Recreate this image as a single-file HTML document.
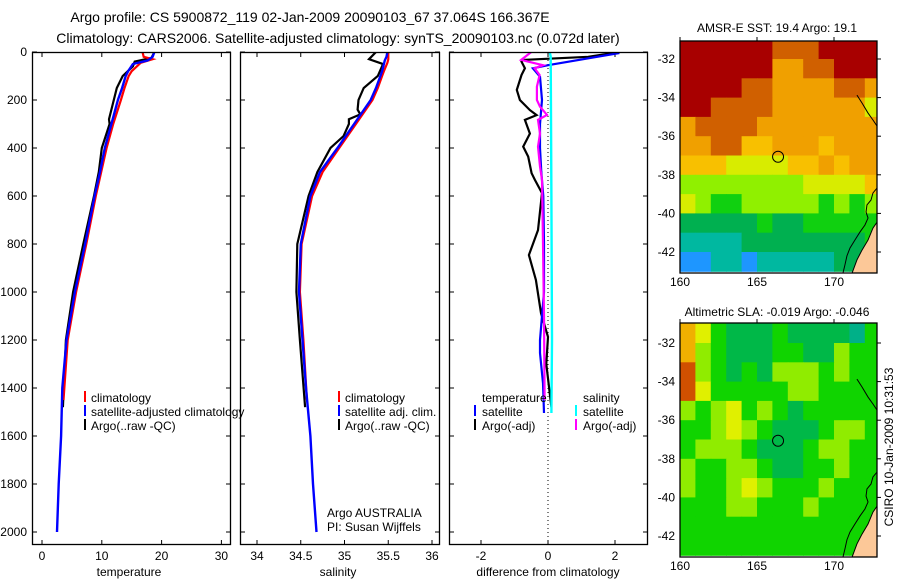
<!DOCTYPE html>
<html><head><meta charset="utf-8"><style>
body{margin:0;background:#fff;}
svg{display:block;font-family:"Liberation Sans",sans-serif;}
</style></head><body>
<svg id="fig" width="900" height="580" viewBox="0 0 900 580" xmlns="http://www.w3.org/2000/svg">
<rect width="900" height="580" fill="#fff"/>
<text x="310" y="22" font-size="14" text-anchor="middle">Argo profile: CS 5900872_119 02-Jan-2009 20090103_67 37.064S 166.367E</text>
<text x="338" y="43" font-size="14" text-anchor="middle">Climatology: CARS2006. Satellite-adjusted climatology: synTS_20090103.nc (0.072d later)</text>
<g id="plots"></g>
<text x="129" y="576" font-size="12" text-anchor="middle">temperature</text>
<text x="338" y="576" font-size="12" text-anchor="middle">salinity</text>
<text x="548" y="576" font-size="12" text-anchor="middle">difference from climatology</text>
<g font-size="12">
<rect x="84" y="391" width="2" height="11" fill="#f00"/>
<text x="91" y="402">climatology</text>
<rect x="84" y="405" width="2" height="11" fill="#00f"/>
<text x="91" y="416">satellite-adjusted climatology</text>
<rect x="84" y="419" width="2" height="11" fill="#000"/>
<text x="91" y="430">Argo(..raw -QC)</text>
</g>
<g font-size="12">
<rect x="338" y="391" width="2" height="11" fill="#f00"/>
<text x="345" y="402">climatology</text>
<rect x="338" y="405" width="2" height="11" fill="#00f"/>
<text x="345" y="416">satellite adj. clim.</text>
<rect x="338" y="419" width="2" height="11" fill="#000"/>
<text x="345" y="430">Argo(..raw -QC)</text>
<text x="327" y="517">Argo AUSTRALIA</text>
<text x="327" y="531">PI: Susan Wijffels</text>
</g>
<g font-size="12">
<text x="482" y="402">temperature</text>
<rect x="474" y="405" width="2" height="11" fill="#00f"/>
<text x="482" y="416">satellite</text>
<rect x="474" y="419" width="2" height="11" fill="#000"/>
<text x="482" y="430">Argo(-adj)</text>
<text x="583" y="402">salinity</text>
<rect x="575" y="405" width="2" height="11" fill="#0ff"/>
<text x="583" y="416">satellite</text>
<rect x="575" y="419" width="2" height="11" fill="#f0f"/>
<text x="583" y="430">Argo(-adj)</text>
</g>
<text x="777" y="32" font-size="12" text-anchor="middle">AMSR-E SST: 19.4 Argo: 19.1</text>
<text x="777" y="316" font-size="12" text-anchor="middle">Altimetric SLA: -0.019 Argo: -0.046</text>
<text x="0" y="0" font-size="12" text-anchor="middle" transform="translate(893,447) rotate(-90)">CSIRO 10-Jan-2009 10:31:53</text>
</svg>
<script>
// ---------- profile data ----------
const tickDepths = [0,200,400,600,800,1000,1200,1400,1600,1800,2000];
const tempTicks = [0,10,20,30];
const salTicks = [34,34.5,35,35.5,36];
const salTickLabels = ["34","34.5","35","35.5","36"];
const diffTicks = [-2,0,2];

const satDepth = [0,20,35,50,80,100,150,200,300,400,500,600,800,1000,1200,1400,1600,1800,2000];
const satTemp = [18.8,18.5,17.7,15.2,14.4,14.0,13.4,12.7,11.6,10.5,9.7,8.8,7.2,5.5,4.1,3.4,3.2,2.8,2.5];
const satSal = [35.49,35.48,35.46,35.45,35.43,35.41,35.36,35.30,35.11,34.92,34.72,34.61,34.50,34.48,34.52,34.56,34.61,34.64,34.68];

const climDepth = [0,20,30,45,80,100,150,200,300,400,500,600,800,1000,1200,1450];
const climTemp = [16.8,17.0,18.5,16.5,15.0,14.5,13.8,13.2,11.9,10.8,9.9,9.0,7.4,5.7,4.3,3.6];
const climSal = [35.5,35.5,35.5,35.49,35.45,35.43,35.38,35.32,35.13,34.94,34.75,34.63,34.51,34.49,34.53,34.57];

const argoDepth = [0,25,40,60,100,150,200,280,300,400,500,600,800,1000,1200,1480];
const argoTemp = [18.8,18.3,15.5,15.2,13.5,12.5,12.0,11.2,11.3,10.0,9.5,8.7,6.9,5.2,4.0,3.5];
const argoSalDepth = [0,30,50,100,150,200,240,260,280,300,350,400,500,600,800,1000,1200,1480];
const argoSal = [35.36,35.28,35.44,35.38,35.22,35.16,35.15,35.18,35.05,35.05,34.99,34.84,34.69,34.59,34.46,34.45,34.49,34.55];

const satTdiffDepth = [0,5,55,68,103,200,300,400,500,600,800,1000,1200,1254,1380,1504];
const satTdiff = [2.1,2.1,0,-0.45,-0.24,-0.18,-0.24,-0.24,-0.2,-0.14,-0.12,-0.12,-0.24,-0.24,-0.15,-0.12];
const argoTdiffDepth = [0,5,20,33,40,68,96,158,200,242,263,283,340,394,436,505,533,588,742,846,950,1088,1187,1300,1480];
const argoTdiff = [1.9,1.9,1.2,-0.74,-0.79,-0.69,-0.79,-0.93,-0.84,-0.54,-0.34,-0.69,-0.54,-0.74,-0.59,-0.49,-0.39,-0.18,-0.3,-0.57,-0.36,-0.21,0,-0.05,0.1];
const satSdiffDepth = [0,20,600,1200,1504];
const satSdiff = [0.05,0.08,0.1,0.12,0.1];
const argoSdiffDepth = [0,33,40,55,68,96,145,200,228,262,283,340,394,477,533,800,1100,1450];
const argoSdiff = [-0.5,-0.8,-0.6,-0.15,-0.4,-0.25,-0.33,-0.33,-0.24,-0.03,-0.3,-0.24,-0.3,-0.24,-0.18,-0.15,-0.12,-0.1];

// ---------- map data ----------
const mapLons = [160,161,162,163,164,165,166,167,168,169,170,171,172];
const mapLats = [-31,-32,-33,-34,-35,-36,-37,-38,-39,-40,-41,-42];
const sstColors = ["#1e96ff","#00b8a0","#00b050","#10d010","#90f000","#d8ec00","#f8c000","#f0a000","#d06000","#a80000"];
const sstGrid = [
[9,9,9,9,9,9,8,8,8,9,9,9,9],
[9,9,9,9,9,9,7,7,8,8,9,9,9],
[9,9,9,9,8,8,7,7,7,7,8,8,7],
[9,9,8,8,8,8,7,7,7,7,7,7,5],
[7,8,8,8,8,7,7,7,7,7,7,7,7],
[7,7,8,8,6,6,7,7,7,6,7,7,7],
[6,6,6,5,5,5,5,6,6,7,6,7,7],
[4,4,4,4,4,4,4,4,5,5,5,5,6],
[5,4,3,3,4,4,4,4,4,3,4,3,4],
[2,2,2,2,2,3,2,2,3,3,3,3,3],
[1,1,1,1,2,2,2,2,2,2,2,2,3],
[0,0,1,1,0,1,1,1,1,1,2,2,2]];
const slaColors = ["#00b088","#00b848","#10d400","#90ec00","#e0f000","#f0b000","#d05000"];
const slaGrid = [
[5,4,2,1,1,1,2,1,1,1,1,0,2],
[5,3,2,1,1,1,2,2,1,1,3,2,2],
[6,3,2,1,2,1,3,3,3,2,3,2,2],
[6,4,2,2,2,2,2,3,3,2,2,2,2],
[3,2,3,4,2,3,2,1,2,2,2,2,2],
[2,2,3,4,3,2,1,1,1,2,3,3,2],
[2,3,3,3,2,1,1,1,2,3,3,2,2],
[3,2,2,3,3,2,1,1,2,2,3,2,2],
[3,2,2,3,4,3,2,2,2,3,2,2,2],
[2,2,2,3,3,2,2,2,3,2,2,2,2],
[2,2,2,2,2,2,2,2,2,2,2,2,2],
[2,2,2,2,2,2,2,2,2,2,2,2,2]];
const mapLonTicks = [160,165,170];
const mapLatTicks = [-32,-34,-36,-38,-40,-42];
const argoLon = 166.367;
const argoLat = -37.064;
const coastNorthLon = [171.49,171.82,172.21,172.53,172.79];
const coastNorthLat = [-33.87,-34.28,-34.80,-35.16,-35.47];
const coastSouthLon = [172.8,172.53,172.4,172.14,172.08,172.21,172.01,171.69,171.36,171.04,170.84,170.71,170.58];
const coastSouthLat = [-38.68,-38.94,-39.31,-39.56,-39.93,-40.24,-40.6,-40.96,-41.38,-41.79,-42.2,-42.67,-43.1];
const landLon = [172.8,172.53,172.21,171.82,171.49,171.17,172.8];
const landLat = [-40.45,-40.76,-41.38,-41.9,-42.41,-43.1,-43.1];

const NS = "http://www.w3.org/2000/svg";
const root = document.getElementById('plots');
function mk(parent, tag, attrs){
  const e = document.createElementNS(NS, tag);
  for (const k in attrs) e.setAttribute(k, attrs[k]);
  parent.appendChild(e);
  return e;
}
const Y0 = 52, Y1 = 545;
function yD(d){ return Y0 + d*0.24; }

const panels = [
  {name:'temperature', x0:32, x1:231, sx:v=>42+v*5.98, ticks:tempTicks, labels:tempTicks.map(String)},
  {name:'salinity', x0:240, x1:440, sx:v=>257+(v-34)*87.5, ticks:salTicks, labels:salTickLabels},
  {name:'difference', x0:449, x1:648, sx:v=>548+v*33.5, ticks:diffTicks, labels:diffTicks.map(String)}
];

function drawLine(g, xs, ds, sx, color, w){
  const pts = xs.map((v,i)=> sx(v).toFixed(1)+','+yD(ds[i]).toFixed(1)).join(' ');
  const l = mk(g,'polyline',{points:pts, fill:'none', stroke:color, 'stroke-width':w, 'stroke-linejoin':'miter'});
  return l;
}

panels.forEach((p,pi)=>{
  const g = mk(root,'g',{});
  
  
  const clipId = 'clip'+pi;
  const cp = mk(g,'clipPath',{id:clipId});
  mk(cp,'rect',{x:p.x0, y:Y0, width:p.x1-p.x0, height:Y1-Y0});
  tickDepths.forEach(d=>{
    const t1 = mk(g,'line',{x1:p.x0, x2:p.x0+5, y1:yD(d), y2:yD(d), stroke:'#000', 'stroke-width':1});
    
    
    const t2 = mk(g,'line',{x1:p.x1-5, x2:p.x1, y1:yD(d), y2:yD(d), stroke:'#000', 'stroke-width':1});
    
    
    if (pi===0){
      const tl = mk(g,'text',{x:27, y:yD(d)+4, 'font-size':12, 'text-anchor':'end'});
      tl.textContent = String(d);
      
      
    }
  });
  p.ticks.forEach((v,i)=>{
    const x = p.sx(v);
    const a = mk(g,'line',{x1:x, x2:x, y1:Y0, y2:Y0+5, stroke:'#000', 'stroke-width':1});
    
    
    const b = mk(g,'line',{x1:x, x2:x, y1:Y1-5, y2:Y1, stroke:'#000', 'stroke-width':1});
    
    
    const tl = mk(g,'text',{x:x, y:560, 'font-size':12, 'text-anchor':'middle'});
    tl.textContent = p.labels[i];
    
    
  });
  const lg = mk(g,'g',{'clip-path':'url(#'+clipId+')'});
  
  
  let l;
  if (pi===0){
    l = drawLine(lg, argoTemp, argoDepth, p.sx, '#000', 2.2);
    
    
    l = drawLine(lg, climTemp, climDepth, p.sx, '#f00', 2.2);
    
    
    l = drawLine(lg, satTemp, satDepth, p.sx, '#00f', 2.4);
    
    
  } else if (pi===1){
    l = drawLine(lg, argoSal, argoSalDepth, p.sx, '#000', 2.2);
    
    
    l = drawLine(lg, climSal, climDepth, p.sx, '#f00', 2.2);
    
    
    l = drawLine(lg, satSal, satDepth, p.sx, '#00f', 2.4);
    
    
  } else {
    const z = mk(lg,'line',{x1:p.sx(0), x2:p.sx(0), y1:Y0, y2:Y1, stroke:'#000', 'stroke-width':1, 'stroke-dasharray':'1,3'});
    
    
    l = drawLine(lg, argoTdiff, argoTdiffDepth, p.sx, '#000', 2.2);
    
    
    l = drawLine(lg, satTdiff, satTdiffDepth, p.sx, '#00f', 2.2);
    
    
    l = drawLine(lg, argoSdiff, argoSdiffDepth, p.sx, '#f0f', 2.2);
    
    
    l = drawLine(lg, satSdiff, satSdiffDepth, p.sx, '#0ff', 2.4);
    
    
  }
  const box = mk(g,'rect',{x:p.x0+0.5, y:Y0+0.5, width:p.x1-p.x0-1, height:Y1-Y0-1, fill:'none', stroke:'#000', 'stroke-width':1.3});
  
  
});

// ---------- maps ----------
const MX0 = 680, MX1 = 877;
function lonX(lon){ return MX0 + (lon-160)*15.4; }
const maps = [
  {name:'sst-map', top:41, bot:273, lat32:59, grid:sstGrid, colors:sstColors},
  {name:'sla-map', top:323, bot:557, lat32:343, grid:slaGrid, colors:slaColors}
];
maps.forEach((m,mi)=>{
  const latY = lat => m.lat32 + (-32-lat)*19.3;
  const g = mk(root,'g',{});
  
  
  const cid = 'mclip'+mi;
  const cp = mk(g,'clipPath',{id:cid});
  mk(cp,'rect',{x:MX0, y:m.top, width:MX1-MX0, height:m.bot-m.top});
  const cg = mk(g,'g',{'clip-path':'url(#'+cid+')'});
  m.grid.forEach((row,ri)=>{
    row.forEach((v,ci)=>{
      const lat = mapLats[ri], lon = mapLons[ci];
      const yTop = ri===0 ? m.top-2 : latY(lat);
      const c = mk(cg,'rect',{x:lonX(lon), y:yTop, width:15.9, height:latY(lat-1)-yTop+0.5, fill:m.colors[v]});
      
      
    });
  });
  const land = mk(cg,'polygon',{points:landLon.map((lo,i)=>lonX(lo)+','+latY(landLat[i])).join(' '), fill:'#fcc898', stroke:'#000', 'stroke-width':1});
  
  
  const c1 = mk(cg,'polyline',{points:coastNorthLon.map((lo,i)=>lonX(lo)+','+latY(coastNorthLat[i])).join(' '), fill:'none', stroke:'#000', 'stroke-width':1});
  
  
  const c2 = mk(cg,'polyline',{points:coastSouthLon.map((lo,i)=>lonX(lo)+','+latY(coastSouthLat[i])).join(' '), fill:'none', stroke:'#000', 'stroke-width':1});
  
  
  const circ = mk(cg,'circle',{cx:lonX(argoLon), cy:latY(argoLat), r:5.5, fill:'none', stroke:'#000', 'stroke-width':1});
  
  
  mapLonTicks.forEach(lon=>{
    const t = mk(g,'line',{x1:lonX(lon), x2:lonX(lon), y1:m.top-4, y2:m.top, stroke:'#000', 'stroke-width':1});
    
    
    const tl = mk(g,'text',{x:lonX(lon), y:m.bot+13, 'font-size':12, 'text-anchor':'middle'});
    tl.textContent = String(lon);
    
    
  });
  mapLatTicks.forEach(lat=>{
    const t = mk(g,'line',{x1:MX1, x2:MX1+4, y1:latY(lat), y2:latY(lat), stroke:'#000', 'stroke-width':1});
    
    
    const tl = mk(g,'text',{x:675, y:latY(lat)+4, 'font-size':12, 'text-anchor':'end'});
    tl.textContent = String(lat);
    
    
  });
  const box = mk(g,'rect',{x:MX0, y:m.top, width:MX1-MX0, height:m.bot-m.top, fill:'none', stroke:'#000', 'stroke-width':1.3});
  
  
});
</script>
</body></html>
